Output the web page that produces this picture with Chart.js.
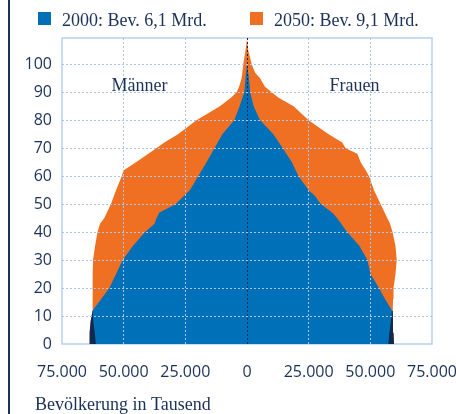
<!DOCTYPE html>
<html><head><meta charset="utf-8">
<script src="https://cdn.jsdelivr.net/npm/chart.js@4.4.1/dist/chart.umd.min.js"></script>
<style>html,body{margin:0;padding:0;background:#fff;}#wrap{width:456px;height:414px;position:relative;}</style>
</head><body><div id="wrap"><canvas id="c" width="456" height="414"></canvas></div>
<script>
// ---- data (thousands of people) ----
const legendLabels = ['2000: Bev. 6,1 Mrd.', '2050: Bev. 9,1 Mrd.'];
const sideLabels = ['Männer', 'Frauen'];
const axisTitle = 'Bevölkerung in Tausend';
const xTicks = [-75000, -50000, -25000, 0, 25000, 50000, 75000];
const yTicks = [0, 10, 20, 30, 40, 50, 60, 70, 80, 90, 100];

const ages2000  = [0, 4, 8, 12, 16, 20, 25, 30, 35, 40, 43, 45, 47, 50, 53, 55, 60, 65, 70, 75, 80, 85, 90, 95, 100];
const men2000   = [61300, 61700, 62300, 62600, 59200, 55800, 53100, 50400, 46300, 41300, 37500, 36700, 35500, 29000, 25500, 23200, 19800, 16400, 13200, 10000, 5200, 3000, 1100, 600, 0];
const women2000 = [57300, 57700, 58300, 58800, 56000, 53500, 50100, 48800, 45600, 40600, 38200, 36600, 34500, 30000, 27500, 25000, 20900, 18200, 14500, 10700, 5300, 2700, 1300, 800, 0];

const ages2050  = [0, 4, 8, 12, 16, 20, 25, 30, 35, 40, 43, 45, 50, 55, 60, 62, 65, 68, 70, 72, 75, 80, 85, 88, 90, 92, 95, 97, 100, 105, 109];
const men2050   = [64000, 63800, 63400, 62600, 62600, 62600, 62500, 62400, 61600, 60600, 59600, 57900, 55200, 53100, 50800, 50100, 45000, 40000, 36800, 33500, 28000, 20500, 11000, 6500, 4200, 3200, 2200, 1900, 1500, 600, 0];
const women2050 = [59600, 59400, 59200, 59100, 59200, 59400, 60200, 60700, 60200, 59000, 58000, 56900, 54200, 51500, 49500, 48200, 46100, 44700, 40000, 38600, 33100, 25000, 18900, 12800, 10000, 7300, 5300, 3300, 1900, 500, 0];

const youngAgeLimit = 12; // 2050 cohorts below this age wider than 2000 (shown dark)

// ---- styles ----
const BLUE = '#0070b9', ORANGE = '#f07023', NAVY = '#0d2a52', TEXT = '#1b3159';
const GRID = '#a9c5ea', FRAME = '#b9cff0';

function pts(ages, vals, sign) { return ages.map((a, i) => ({x: sign * vals[i], y: a})); }
function young(ages, vals, sign) {
  return ages.map((a, i) => ({x: sign * vals[i], y: a})).filter(p => p.y <= youngAgeLimit);
}
function fmt(n) { return String(n).replace(/\B(?=(\d{3})+(?!\d))/g, '.'); }

function area(data, color, order) {
  return {data, backgroundColor: color, borderWidth: 0, pointRadius: 0, fill: 'origin', tension: 0, order};
}

const deco = {
  id: 'deco',
  beforeDatasetsDraw(chart) {
    const {ctx, chartArea: a} = chart;
    ctx.save();
    ctx.strokeStyle = FRAME; ctx.lineWidth = 1.5;
    ctx.strokeRect(a.left, a.top, a.right - a.left, a.bottom - a.top);
    ctx.restore();
  },
  afterDraw(chart) {
    const {ctx} = chart;
    const xs = chart.scales.x, ys = chart.scales.y;
    ctx.save();
    ctx.fillStyle = TEXT;
    ctx.fillRect(8, 0, 2, 414);
    ctx.font = '18px "Liberation Serif", serif';
    ctx.textBaseline = 'alphabetic'; ctx.textAlign = 'left';
    const legX = [38, 250], cols = [BLUE, ORANGE];
    legendLabels.forEach((t, i) => {
      ctx.fillStyle = cols[i]; ctx.fillRect(legX[i], 12, 13, 13);
      ctx.fillStyle = TEXT; ctx.fillText(t, legX[i] + 24, 26);
    });
    ctx.textAlign = 'center';
    const ly = ys.getPixelForValue(90.5);
    ctx.fillText(sideLabels[0], xs.getPixelForValue(-43600), ly);
    ctx.fillText(sideLabels[1], xs.getPixelForValue(43600), ly);
    ctx.textAlign = 'left';
    ctx.fillText(axisTitle, 35, 409.5);
    ctx.restore();
  }
};

new Chart(document.getElementById('c'), {
  type: 'line',
  data: {
    datasets: [
      area(pts(ages2000, men2000, -1), BLUE, 1),
      area(pts(ages2000, women2000, 1), BLUE, 1),
      area(young(ages2050, men2050, -1), NAVY, 2),
      area(young(ages2050, women2050, 1), NAVY, 2),
      area(pts(ages2050, men2050, -1), ORANGE, 3),
      area(pts(ages2050, women2050, 1), ORANGE, 3)
    ]
  },
  options: {
    indexAxis: 'y',
    responsive: false,
    devicePixelRatio: 1,
    animation: false,
    layout: {padding: {top: 38, right: 24, left: 0, bottom: 0}},
    plugins: {legend: {display: false}, tooltip: {enabled: false}},
    elements: {line: {borderWidth: 0}},
    scales: {
      x: {
        type: 'linear', min: -75000, max: 75000,
        afterFit: s => { s.height = 70; s.paddingLeft = 0; s.paddingRight = 0; },
        afterBuildTicks: s => { s.ticks = xTicks.map(v => ({value: v})); },
        grid: {
          z: 1, drawTicks: false, lineWidth: 1,
          color: c => c.tick && c.tick.value === 0 ? NAVY : (Math.abs(c.tick ? c.tick.value : 0) === 75000 ? 'transparent' : GRID)
        },
        border: {display: false, dash: [2, 2]},
        ticks: {
          padding: 19, color: TEXT, font: {family: '"Open Sans", sans-serif', size: 16},
          callback: v => fmt(Math.abs(v)), maxRotation: 0, autoSkip: false
        }
      },
      y: {
        type: 'linear', min: 0, max: 109.4,
        afterFit: s => { s.width = 62; s.paddingTop = 0; s.paddingBottom = 0; },
        afterBuildTicks: s => { s.ticks = yTicks.map(v => ({value: v})); },
        grid: {
          z: 1, drawTicks: false, lineWidth: 1,
          color: c => (c.tick && c.tick.value === 0) ? 'transparent' : GRID
        },
        border: {display: false, dash: [2, 2]},
        ticks: {padding: 10, color: TEXT, font: {family: '"Open Sans", sans-serif', size: 16}, autoSkip: false}
      }
    }
  },
  plugins: [deco]
});
</script></body></html>
